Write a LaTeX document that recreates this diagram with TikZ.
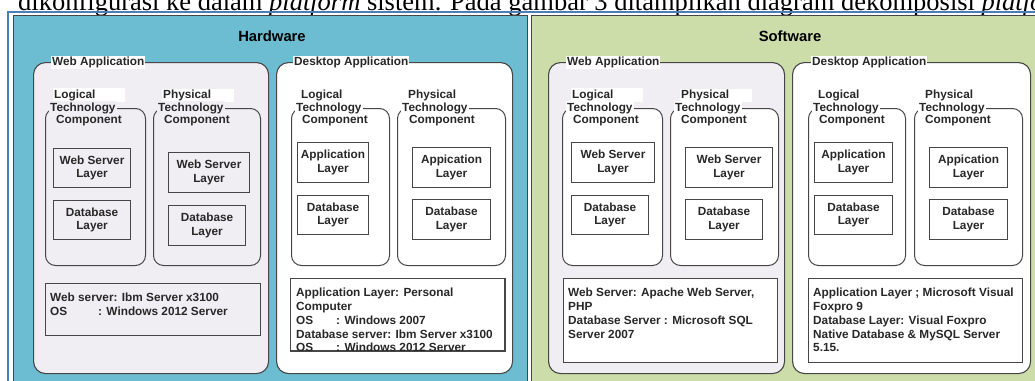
\documentclass[tikz,border=0pt]{standalone}
\usepackage{fontspec}
\setmainfont{Liberation Serif}
\setsansfont{Liberation Sans}
\usepackage{tikz}
\usetikzlibrary{positioning}

\definecolor{hwblue}{RGB}{108,189,209}
\definecolor{swgreen}{RGB}{204,221,170}
\definecolor{webgray}{RGB}{240,238,243}
\definecolor{frameblue}{RGB}{74,126,187}
\definecolor{edgegray}{RGB}{70,70,70}
\definecolor{ink}{RGB}{40,40,40}

\begin{document}
\begin{tikzpicture}[x=1pt,y=-1pt,
    every node/.style={font=\sffamily\bfseries\fontsize{11.8}{13.8}\selectfont,text=ink},
    panel/.style={draw=edgegray,line width=1.3pt,anchor=north west,inner sep=0pt},
    appbox/.style={draw=edgegray,line width=1.1pt,rounded corners=12pt,anchor=north west,inner sep=0pt,minimum height=311pt},
    compbox/.style={draw=edgegray,line width=1pt,rounded corners=10pt,anchor=north west,inner sep=0pt,minimum height=157pt},
    layer/.style={draw=edgegray,line width=1pt,align=center,anchor=north west,inner sep=0pt},
    info/.style={draw=edgegray,line width=1pt,anchor=north west,inner sep=0pt},
    infotext/.style={align=left,anchor=north west,inner sep=1pt},
    apptitle/.style={fill=white,anchor=west,inner sep=1pt},
    toptag/.style={fill=white,anchor=west,inner sep=1pt,text width=70pt,align=left},
    midtag/.style={anchor=west,inner sep=1pt},
    bigtitle/.style={font=\sffamily\bfseries\fontsize{14.8}{16}\selectfont,text=black}]
  \useasboundingbox (0,0) rectangle (1035,380);
  \clip (0,0) rectangle (1035,380);

  % cut caption line above the figure
  \node[font=\rmfamily\fontsize{26.5}{30}\selectfont,text=black,anchor=base west,inner sep=0pt]
    (caption) at (18,10) {dikonfigurasi ke dalam \textit{platform} sistem. Pada gambar 3 ditampilkan diagram dekomposisi \textit{platform}};
  \draw[frameblue,line width=2pt] (8,400) -- (8,12) -- (1050,12);

  % panels
  \node[panel,fill=hwblue,minimum width=514pt,minimum height=380pt] (hw) at (13,15) {};
  \node[panel,fill=swgreen,minimum width=520pt,minimum height=380pt] (sw) at (531,15) {};
  \node[bigtitle] (hwtitle) at (272,36) {Hardware};
  \node[bigtitle] (swtitle) at (790,36) {Software};

  % ---------- Hardware ----------
  \node[appbox,fill=webgray,minimum width=235pt] (hwweb) at (33,62) {};
  \node[appbox,fill=white,minimum width=236pt] (hwdesk) at (276,62) {};
  \node[apptitle] (hwwebt) at (51,62) {Web Application};
  \node[apptitle] (hwdeskt) at (293,62) {Desktop Application};

  % web application
  \node[compbox,fill=webgray,minimum width=100pt] (hwwebL) at (45,108) {};
  \node[compbox,fill=webgray,minimum width=107pt] (hwwebP) at (153,108) {};
  \node[toptag] (hwwebLa) at (53,95) {Logical};
  \node[midtag,fill=webgray] (hwwebLb) at (49,108) {Technology};
  \node[midtag] (hwwebLc) at (55,121) {Component};
  \node[toptag] (hwwebPa) at (162,95) {Physical};
  \node[midtag,fill=webgray] (hwwebPb) at (157,108) {Technology};
  \node[midtag] (hwwebPc) at (163,121) {Component};
  \node[layer,minimum width=77pt,minimum height=39pt] (hwwebLws) at (53,148) {Web Server\\Layer};
  \node[layer,minimum width=77pt,minimum height=39pt] (hwwebLdb) [below=12pt of hwwebLws.south west,anchor=north west] {Database\\Layer};
  \node[layer,minimum width=81pt,minimum height=40pt] (hwwebPws) at (168,152) {Web Server\\Layer};
  \node[layer,minimum width=77pt,minimum height=40pt] (hwwebPdb) [below=12pt of hwwebPws.south west,anchor=north west] {Database\\Layer};
  \node[info,minimum width=215pt,minimum height=52pt] (hwwebinfo) at (45,283) {};
  \node[infotext] (hwwebtxt) at (49,292) {Web server: Ibm Server x3100\\\makebox[48pt][l]{OS}: Windows 2012 Server};

  % desktop application
  \node[compbox,fill=white,minimum width=98pt] (hwdeskL) at (291,108) {};
  \node[compbox,fill=white,minimum width=108pt] (hwdeskP) at (397,108) {};
  \node[toptag] (hwdeskLa) at (300,95) {Logical};
  \node[midtag,fill=white] (hwdeskLb) at (295,108) {Technology};
  \node[midtag] (hwdeskLc) at (301,121) {Component};
  \node[toptag] (hwdeskPa) at (407,95) {Physical};
  \node[midtag,fill=white] (hwdeskPb) at (401,108) {Technology};
  \node[midtag] (hwdeskPc) at (408,121) {Component};
  \node[layer,minimum width=71pt,minimum height=40pt] (hwdeskLap) at (297,142) {Application\\Layer};
  \node[layer,minimum width=71pt,minimum height=39pt] (hwdeskLdb) [below=12pt of hwdeskLap.south west,anchor=north west] {Database\\Layer};
  \node[layer,minimum width=78pt,minimum height=40pt] (hwdeskPap) at (412,147) {Appication\\Layer};
  \node[layer,minimum width=78pt,minimum height=40pt] (hwdeskPdb) [below=11pt of hwdeskPap.south west,anchor=north west] {Database\\Layer};
  \node[info,fill=white,minimum width=214pt,minimum height=72pt] (hwdeskinfo) at (290,278) {};
  \begin{scope}
    \clip (hwdeskinfo.north west) rectangle (hwdeskinfo.south east);
    \node[infotext] (hwdesktxt) at (295,287) {Application Layer: Personal\\Computer\\\makebox[40pt][l]{OS}: Windows 2007\\Database server: Ibm Server x3100\\\makebox[40pt][l]{OS}: Windows 2012 Server};
  \end{scope}
  \draw[edgegray,line width=1pt] (hwdeskinfo.north west) rectangle (hwdeskinfo.south east);

  % ---------- Software ----------
  \node[appbox,fill=webgray,minimum width=236pt] (swweb) at (548,62) {};
  \node[appbox,fill=white,minimum width=238pt] (swdesk) at (792,62) {};
  \node[apptitle] (swwebt) at (566,62) {Web Application};
  \node[apptitle] (swdeskt) at (811,62) {Desktop Application};

  % web application
  \node[compbox,fill=white,minimum width=100pt] (swwebL) at (562,108) {};
  \node[compbox,fill=white,minimum width=108pt] (swwebP) at (670,108) {};
  \node[toptag] (swwebLa) at (571,95) {Logical};
  \node[midtag,fill=white] (swwebLb) at (566,108) {Technology};
  \node[midtag] (swwebLc) at (572,121) {Component};
  \node[toptag] (swwebPa) at (680,95) {Physical};
  \node[midtag,fill=white] (swwebPb) at (674,108) {Technology};
  \node[midtag] (swwebPc) at (680,121) {Component};
  \node[layer,minimum width=83pt,minimum height=40pt] (swwebLws) at (571,142) {Web Server\\Layer};
  \node[layer,minimum width=77pt,minimum height=39pt] (swwebLdb) [below=12pt of swwebLws.south west,anchor=north west] {Database\\Layer};
  \node[layer,minimum width=87pt,minimum height=40pt] (swwebPws) at (685,147) {Web Server\\Layer};
  \node[layer,minimum width=77pt,minimum height=40pt] (swwebPdb) [below=11pt of swwebPws.south west,anchor=north west] {Database\\Layer};
  \node[info,fill=white,minimum width=214pt,minimum height=84pt] (swwebinfo) at (563,278) {};
  \node[infotext] (swwebtxt) at (567,287) {Web Server: Apache Web Server,\\PHP\\Database Server : Microsoft SQL\\Server 2007};

  % desktop application
  \node[compbox,fill=white,minimum width=97pt] (swdeskL) at (808,108) {};
  \node[compbox,fill=white,minimum width=108pt] (swdeskP) at (914,108) {};
  \node[toptag] (swdeskLa) at (817,95) {Logical};
  \node[midtag,fill=white] (swdeskLb) at (812,108) {Technology};
  \node[midtag] (swdeskLc) at (818,121) {Component};
  \node[toptag] (swdeskPa) at (924,95) {Physical};
  \node[midtag,fill=white] (swdeskPb) at (918,108) {Technology};
  \node[midtag] (swdeskPc) at (924,121) {Component};
  \node[layer,minimum width=78pt,minimum height=40pt] (swdeskLap) at (814,142) {Application\\Layer};
  \node[layer,minimum width=78pt,minimum height=39pt] (swdeskLdb) [below=12pt of swdeskLap.south west,anchor=north west] {Database\\Layer};
  \node[layer,minimum width=78pt,minimum height=40pt] (swdeskPap) at (929,147) {Appication\\Layer};
  \node[layer,minimum width=78pt,minimum height=40pt] (swdeskPdb) [below=11pt of swdeskPap.south west,anchor=north west] {Database\\Layer};
  \node[info,fill=white,minimum width=214pt,minimum height=84pt] (swdeskinfo) at (808,278) {};
  \node[infotext] (swdesktxt) at (812,287) {Application Layer ; Microsoft Visual\\Foxpro 9\\Database Layer: Visual Foxpro\\Native Database \& MySQL Server\\5.15.};
\end{tikzpicture}
\end{document}
